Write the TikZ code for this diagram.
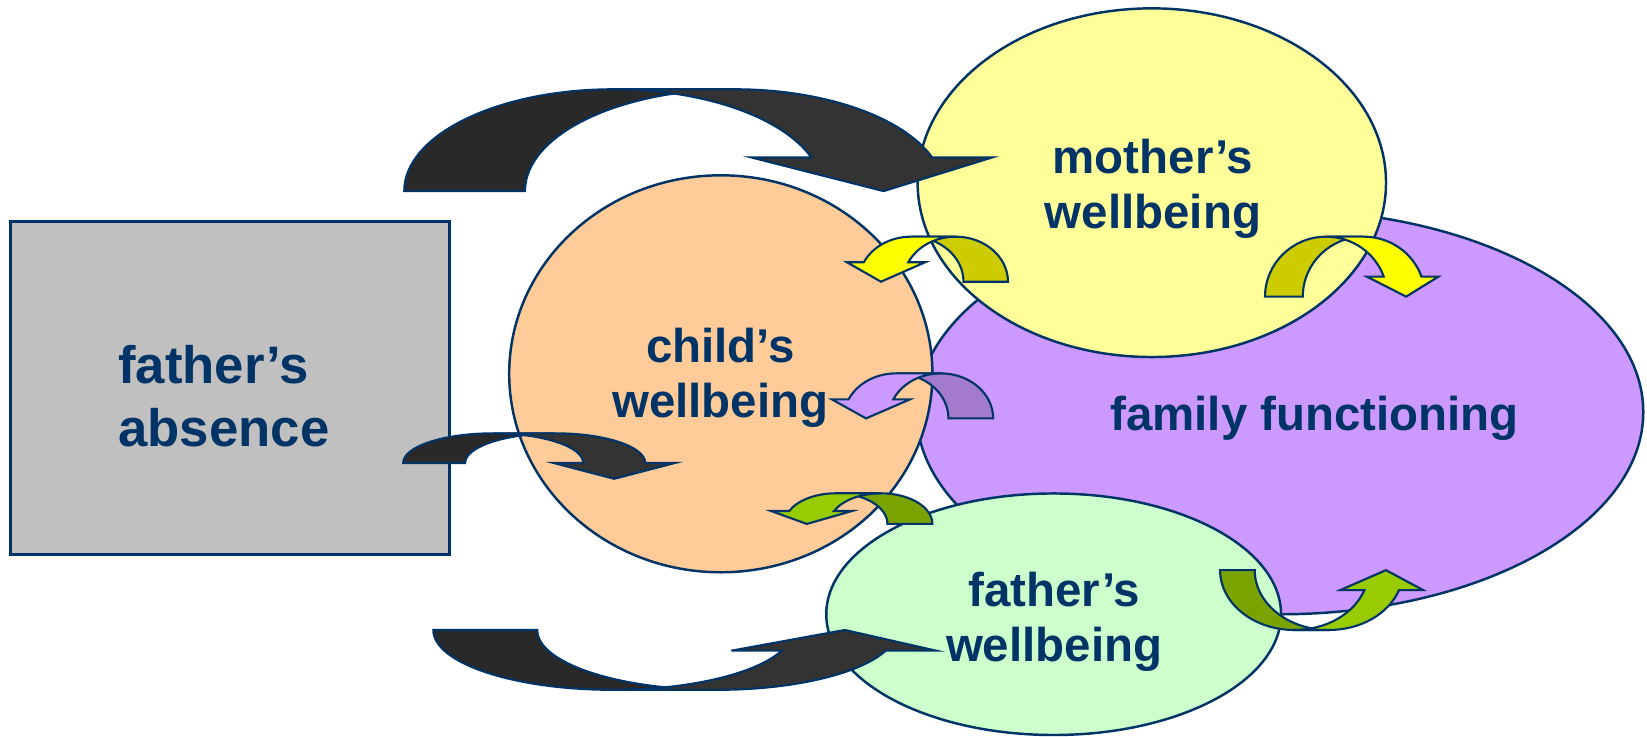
\documentclass[tikz,border=0pt]{standalone}
\usepackage{fontspec}
\setmainfont{Liberation Sans}
\usepackage{xcolor}
\usetikzlibrary{shapes.geometric}
\definecolor{navy}{HTML}{003366}
\definecolor{boxgray}{HTML}{C0C0C0}
\definecolor{peach}{HTML}{FFCC99}
\definecolor{lemon}{HTML}{FFFF99}
\definecolor{lilac}{HTML}{CC99FF}
\definecolor{mint}{HTML}{CCFFCC}
\definecolor{inkfront}{HTML}{333333}
\definecolor{inkback}{HTML}{292929}
\definecolor{yelfront}{HTML}{FFFF00}
\definecolor{yelback}{HTML}{CCCC00}
\definecolor{lilfront}{HTML}{CC99FF}
\definecolor{lilback}{HTML}{A37ACC}
\definecolor{grnfront}{HTML}{99CC00}
\definecolor{grnback}{HTML}{7AA300}
\tikzset{
  blob/.style={ellipse, draw=navy, line width=0.7pt, inner sep=0pt},
  lab/.style={text=navy, font=\fontsize{13.5}{15.5}\selectfont\bfseries, align=center, inner sep=0pt},
  arw/.style={draw=navy, line width=0.6pt, line join=miter},
}
% bent block arrow: #1 placement, #2 x radius, #3 y radius, #4 band,
% #5 wing height, #6 wing overhang, #7 tip height, #8 front, #9 back
\newcommand{\bentarrow}[9]{%
  \pgfmathsetmacro{\bendang}{asin(#5/#3)}%
  \pgfmathsetmacro{\bendx}{#2*cos(\bendang)}%
  \begin{scope}[#1]
    \filldraw[arw, fill=#9] (-#2,0) arc[start angle=180, end angle=90, x radius=#2, y radius=#3]
      -- (#4,#3) arc[start angle=90, end angle=180, x radius=#2, y radius=#3] -- cycle;
    \filldraw[arw, fill=#8] (0,#3) -- (#4,#3)
      arc[start angle=90, end angle=\bendang, x radius=#2, y radius=#3]
      -- ++(#6,0) -- ({#2+#4/2},#7) -- ({\bendx-#6},#5) -- (\bendx,#5)
      arc[start angle=\bendang, end angle=90, x radius=#2, y radius=#3] -- cycle;
  \end{scope}}

\begin{document}
\begin{tikzpicture}[x=0.0105cm, y=-0.0105cm]
  \useasboundingbox (0,0) rectangle (1568.6,701);

  % ellipses and the box
  \node[blob, fill=lilac, minimum width=7.266cm, minimum height=4.0425cm] (family) at (1219,392.5) {};
  \node[blob, fill=peach, minimum width=4.2315cm, minimum height=3.969cm] (child) at (686.5,356) {};
  \node[blob, fill=lemon, minimum width=4.683cm, minimum height=3.486cm] (mother) at (1097,174) {};
  \node[blob, fill=mint, minimum width=4.5465cm, minimum height=2.415cm] (father) at (1003.5,585) {};
  \node[draw=navy, line width=0.7pt, fill=boxgray, minimum width=4.389cm, minimum height=3.3285cm, inner sep=0pt] (absence) at (219,369.5) {};

  % big dark arrows out of the box
  \bentarrow{shift={(584.5,182)},yscale=-1}{199.5}{97}{115}{32}{57}{0}{inkfront}{inkback}
  \bentarrow{shift={(469.75,441)},yscale=-1}{85.75}{28.3}{59}{0}{28}{-15}{inkfront}{inkback}
  \bentarrow{shift={(583.9,600)}}{171.2}{57}{99}{19.7}{48}{0}{inkfront}{inkback}

  % small arrows between the ellipses
  \bentarrow{shift={(910.1,268.3)},xscale=-1,yscale=-1}{49.9}{42.9}{42.4}{18.5}{16}{0}{yelfront}{yelback}
  \bentarrow{shift={(896,398.5)},xscale=-1,yscale=-1}{49.9}{42.9}{42.6}{18.2}{16}{0}{lilfront}{lilback}
  \bentarrow{shift={(838.9,499)},xscale=-1,yscale=-1}{49.1}{29.2}{42.8}{12.3}{17}{0}{grnfront}{grnback}
  \bentarrow{shift={(1263,282.5)},yscale=-1}{58.2}{57.1}{36}{19}{16}{0}{yelfront}{yelback}
  \bentarrow{shift={(1232.75,543)}}{70.75}{57}{33}{19}{23}{0}{grnfront}{grnback}

  % labels
  \node[lab, font=\fontsize{15}{18}\selectfont\bfseries, align=left, anchor=west] (absencetxt) at (112,377) {father’s\\absence};
  \node[lab] (childtxt) at (686,360) {child’s\\wellbeing};
  \node[lab] (mothertxt) at (1098,180) {mother’s\\wellbeing};
  \node[lab] (familytxt) at (1252,398) {family functioning};
  \node[lab] (fathertxt) at (1004,592) {father’s\\wellbeing};
\end{tikzpicture}
\end{document}
